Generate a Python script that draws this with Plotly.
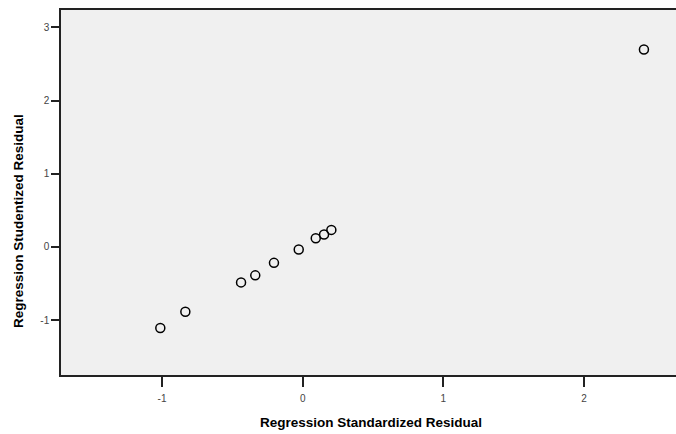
import plotly.graph_objects as go

std_resid = [-1.012, -0.834, -0.438, -0.337, -0.204, -0.028, 0.093, 0.152, 0.204, 2.426]
stud_resid = [-1.109, -0.887, -0.485, -0.389, -0.218, -0.035, 0.119, 0.170, 0.233, 2.700]
x_ticks = [-1, 0, 1, 2]
y_ticks = [-1, 0, 1, 2, 3]
x_title = "Regression Standardized Residual"
y_title = "Regression Studentized Residual"

fig = go.Figure()
fig.add_trace(go.Scatter(
    x=std_resid, y=stud_resid, mode="markers",
    marker=dict(symbol="circle-open", size=9, color="black", line=dict(width=1.5, color="black")),
    showlegend=False,
))

fig.update_layout(
    width=676, height=434,
    margin=dict(l=61, r=0, t=10, b=59),
    paper_bgcolor="white", plot_bgcolor="#f0f0f0",
    font=dict(family="Liberation Sans, Arial, sans-serif", color="black"),
    annotations=[
        dict(text="<b>%s</b>" % x_title, xref="paper", yref="paper", x=0.504, y=-0.1315,
             xanchor="center", yanchor="middle", showarrow=False, font=dict(size=13.5, color="black")),
        dict(text="<b>%s</b>" % y_title, xref="paper", yref="paper", x=-0.0683, y=0.422,
             xanchor="center", yanchor="middle", textangle=-90, showarrow=False,
             font=dict(size=13.5, color="black")),
    ],
)
fig.update_xaxes(
    range=[-1.718, 2.654], tickvals=x_ticks, ticktext=[str(v) for v in x_ticks],
    showgrid=False, zeroline=False, showline=True, mirror=True, linecolor="#222", linewidth=1.5,
    ticks="outside", ticklen=10, tickwidth=1.5, tickcolor="#222",
    tickfont=dict(size=10, color="#444"), ticklabelstandoff=3,
)
fig.update_yaxes(
    range=[-1.751, 3.239], tickvals=y_ticks, ticktext=[str(v) for v in y_ticks],
    showgrid=False, zeroline=False, showline=True, mirror=False, linecolor="#222", linewidth=1.5,
    ticks="outside", ticklen=8, tickwidth=1.5, tickcolor="#222",
    tickfont=dict(size=10, color="#444"),
)

fig.write_html(
    "out.html",
    config={"displayModeBar": False},
    post_script="document.body.style.margin='0';document.body.style.overflow='hidden';",
)
